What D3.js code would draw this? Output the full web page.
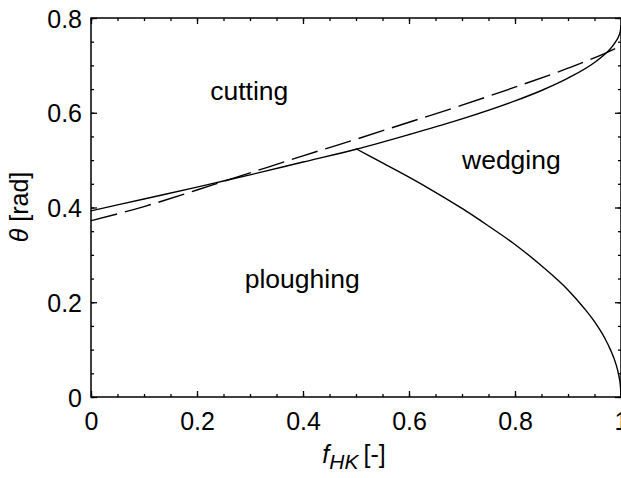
<!DOCTYPE html>
<html>
<head>
<meta charset="utf-8">
<script src="https://cdn.jsdelivr.net/npm/d3@7"></script>
<style>
  body { margin: 0; background: #fff; }
  svg { display: block; font-family: "Liberation Sans", Arial, sans-serif; }
</style>
</head>
<body>
<script>
// values
var upperF     = [0, 0.1, 0.2, 0.25, 0.3, 0.4, 0.5, 0.6, 0.7, 0.8, 0.85, 0.9, 0.95, 0.97, 0.98, 0.99, 0.995, 0.999, 1];
var upperTheta = [0.393, 0.418, 0.443, 0.456, 0.469, 0.496, 0.523, 0.554, 0.587, 0.625, 0.647, 0.673, 0.706, 0.724, 0.735, 0.750, 0.760, 0.774, 0.785];

var lowerF     = [0.5, 0.55, 0.6, 0.65, 0.7, 0.75, 0.8, 0.85, 0.9, 0.93, 0.95, 0.97, 0.98, 0.99, 0.995, 0.999, 1];
var lowerTheta = [0.524, 0.494, 0.464, 0.432, 0.398, 0.361, 0.322, 0.277, 0.226, 0.188, 0.159, 0.123, 0.100, 0.071, 0.050, 0.022, 0];

var dashF      = [0, 0.1, 0.2, 0.25, 0.3, 0.4, 0.5, 0.6, 0.7, 0.8, 0.9, 0.973, 1];
var dashTheta  = [0.372, 0.402, 0.437, 0.455, 0.473, 0.509, 0.544, 0.580, 0.616, 0.654, 0.694, 0.727, 0.741];

var xMajor = [0, 0.2, 0.4, 0.6, 0.8, 1];
var yMajor = [0, 0.2, 0.4, 0.6, 0.8];
var xMinor = d3.range(0, 1.0001, 0.05);
var yMinor = d3.range(0, 0.8001, 0.05);

var regionLabels = ["cutting", "wedging", "ploughing"];
var regionF      = [0.225, 0.70, 0.29];
var regionTheta  = [0.627, 0.481, 0.23];

var svgWidth = 621, svgHeight = 478;
var margin = {top: 18, right: 0, bottom: 81, left: 91};
var width = svgWidth - margin.left - margin.right;
var height = svgHeight - margin.top - margin.bottom;

var svg = d3.select("body").append("svg")
  .attr("width", svgWidth)
  .attr("height", svgHeight);

var g = svg.append("g")
  .attr("transform", "translate(" + margin.left + "," + margin.top + ")");

var x = d3.scaleLinear().domain([0, 1]).range([0, width]);
var y = d3.scaleLinear().domain([0, 0.8]).range([height, 0]);

var fmt = function(d) { return String(+d.toFixed(1)); };

// minor ticks on all four sides
function minor(axis, vals) { return axis.tickValues(vals).tickSize(-3).tickFormat(""); }
g.append("g").attr("transform", "translate(0," + height + ")").call(minor(d3.axisBottom(x), xMinor));
g.append("g").call(minor(d3.axisTop(x), xMinor));
g.append("g").call(minor(d3.axisLeft(y), yMinor));
g.append("g").attr("transform", "translate(" + width + ",0)").call(minor(d3.axisRight(y), yMinor));

// major ticks
var xb = g.append("g").attr("transform", "translate(0," + height + ")")
  .call(d3.axisBottom(x).tickValues(xMajor).tickSize(-6).tickFormat(fmt));
xb.selectAll("text").attr("y", 33).attr("dy", null);
g.append("g").call(d3.axisTop(x).tickValues(xMajor).tickSize(-6).tickFormat(""));
var yl = g.append("g")
  .call(d3.axisLeft(y).tickValues(yMajor).tickSize(-6).tickPadding(9).tickFormat(fmt));
yl.selectAll("text").attr("dy", "0.36em");
g.append("g").attr("transform", "translate(" + width + ",0)")
  .call(d3.axisRight(y).tickValues(yMajor).tickSize(-6).tickFormat(""));

g.selectAll(".domain").remove();
g.selectAll(".tick line").attr("stroke", "#000").attr("stroke-width", 1.3);
g.selectAll(".tick text").attr("font-size", 25).attr("fill", "#000")
  .style("font-family", "'Liberation Sans', Arial, sans-serif");

g.append("rect")
  .attr("width", width).attr("height", height)
  .attr("fill", "none").attr("stroke", "#000").attr("stroke-width", 1.5);

var line = d3.line()
  .x(function(d) { return x(d[0]); })
  .y(function(d) { return y(d[1]); })
  .curve(d3.curveMonotoneX);

g.append("path")
  .datum(d3.zip(upperF, upperTheta))
  .attr("d", line)
  .attr("fill", "none").attr("stroke", "#000").attr("stroke-width", 1.4);

g.append("path")
  .datum(d3.zip(lowerF, lowerTheta))
  .attr("d", line)
  .attr("fill", "none").attr("stroke", "#000").attr("stroke-width", 1.4);

g.append("path")
  .datum(d3.zip(dashF, dashTheta))
  .attr("d", line)
  .attr("fill", "none").attr("stroke", "#000").attr("stroke-width", 1.4)
  .attr("stroke-dasharray", "27,8");

g.selectAll(".region")
  .data(regionLabels)
  .enter().append("text")
  .attr("class", "region")
  .attr("x", function(d, i) { return x(regionF[i]); })
  .attr("y", function(d, i) { return y(regionTheta[i]); })
  .attr("font-size", 26.5)
  .text(function(d) { return d; });

// axis titles
var xt = svg.append("text")
  .attr("x", 354).attr("y", 463)
  .attr("text-anchor", "middle")
  .attr("font-size", 25);
xt.append("tspan").attr("font-style", "italic").text("f");
xt.append("tspan").attr("font-style", "italic").attr("font-size", 21).attr("dy", 6).text("HK");
xt.append("tspan").attr("dy", -6).attr("dx", 5).text("[-]");

var yt = svg.append("text")
  .attr("transform", "translate(28,207) rotate(-90)")
  .attr("text-anchor", "middle")
  .attr("font-size", 25);
yt.append("tspan").attr("font-style", "italic").text("θ");
yt.append("tspan").text(" [rad]");
</script>
</body>
</html>
